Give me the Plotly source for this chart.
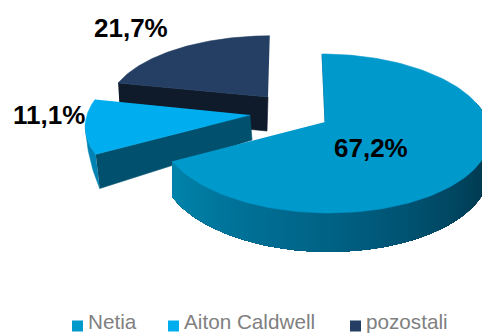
import math
import plotly.graph_objects as go

categories = ["Netia", "Aiton Caldwell", "pozostali"]
values = [67.2, 11.1, 21.7]
top_colors = ["#0099CC", "#00AEEF", "#243F63"]
wall_colors = [None, "#00506E", "#0F1A2B"]

# slice layout: apex in pixels, scale of radius, apex wall depth, shear
apex = [(325, 122), (250, 115), (268, 97)]
scale = [(1, 1), (1, 1), (0.97, 0.9)]
apex_depth = [34, 25, 34]
shear = [3.4, 0, -2]
A, B, K, D = 163, 77.8, 0.1447, 33.3

W, H = 482, 335
fig = go.Figure()

def poly(xs, ys, color, line=0.6):
    fig.add_trace(go.Scatter(x=xs, y=ys, mode="lines", fill="toself", fillcolor=color,
                             line=dict(color=color, width=line), hoverinfo="skip", showlegend=False))

def rim(i, t):
    r = math.radians(t)
    X, Y = math.sin(r), math.cos(r)
    w = 1 + K * Y
    ax, ay = apex[i]
    sx, sy = scale[i]
    return ax + sx * A * X / w - shear[i] * Y / w, ay - sy * B * Y / w, D / w

def mix(c1, c2, f):
    return "rgb(%d,%d,%d)" % tuple(round(a + (b - a) * f) for a, b in zip(c1, c2))

# angular extents follow from the values
total = sum(values)
edges = [0]
for v in values:
    edges.append(edges[-1] + v / total * 360)

def arc(i, a, b, n=80):
    return [a + (b - a) * k / n for k in range(n + 1)]

# --- pozostali (back)
i = 2
a, b = edges[2], edges[3]
ts = arc(i, a, b)
p0 = rim(i, a)
ax, ay = apex[i]
poly([p0[0], ax, ax - 1, p0[0] + 2], [p0[1], ay, ay + apex_depth[i], p0[1] + apex_depth[i]], wall_colors[i])
pts = [rim(i, t) for t in ts]
poly([ax] + [p[0] for p in pts], [ay] + [p[1] for p in pts], top_colors[i])

# --- Aiton Caldwell (middle)
i = 1
a, b = edges[1], edges[2]
p0 = rim(i, a)
ax, ay = apex[i]
# outer rim sliver
ts = [a + (22) * k / 20 for k in range(21)]
up = [rim(i, t) for t in ts]
dn = []
for k, t in enumerate(ts):
    f = 1 - k / 20
    p = rim(i, t)
    dn.append((p[0] + 4 * f, p[1] + (p[2] - 1.5) * f))
poly([p[0] for p in up] + [p[0] for p in dn[::-1]], [p[1] for p in up] + [p[1] for p in dn[::-1]], "#0083B4")
poly([p0[0], ax, ax + 2, p0[0] + 4], [p0[1], ay, ay + apex_depth[i], p0[1] + p0[2] - 1.5], wall_colors[i])
pts = [rim(i, t) for t in arc(i, a, b)]
poly([ax] + [p[0] for p in pts], [ay] + [p[1] for p in pts], top_colors[i])

# --- Netia (front)
i = 0
a, b = edges[0], edges[1]
ax, ay = apex[i]
stops = [(0.0, (0, 50, 68)), (0.25, (0, 58, 80)), (0.6, (0, 95, 130)), (1.0, (0, 132, 172))]
def ramp(f):
    for (f0, c0), (f1, c1) in zip(stops, stops[1:]):
        if f <= f1:
            return mix(c0, c1, (f - f0) / (f1 - f0))
    return mix(stops[-1][1], stops[-1][1], 0)
n = 90
t0, t1 = 75, b
for k in range(n):
    # each band runs to the end of the wall, so later bands paint over it with no seams
    ts = [t0 + (t1 - t0) * j / n for j in range(k, n + 1)]
    ps = [rim(i, t) for t in ts]
    poly([p[0] for p in ps] + [p[0] for p in ps[::-1]],
         [p[1] for p in ps] + [p[1] + p[2] for p in ps[::-1]], ramp(k / (n - 1)), line=0)
# thin wall at the start of the slice
p = rim(i, 0)
poly([p[0], ax, ax + 1.2, p[0] + 1.2], [p[1], ay, ay, p[1] + 2], "#004A66")
pts = [rim(i, t) for t in arc(i, a, b, 140)]
poly([ax] + [p[0] for p in pts], [ay] + [p[1] for p in pts], top_colors[i])

# --- value labels
label_pos = [(370.5, 148), (49, 115), (130.5, 28)]
for v, (lx, ly) in zip(values, label_pos):
    fig.add_annotation(x=lx, y=ly, text="<b>" + f"{v:.1f}%".replace(".", ",") + "</b>", showarrow=False,
                       xanchor="center", yanchor="middle",
                       font=dict(family="Liberation Sans", size=26, color="#000000"))

# --- legend
legend_x = [72, 168, 350]
for name, col, lx in zip(categories, top_colors, legend_x):
    fig.add_trace(go.Scatter(x=[lx + 5.5], y=[326], mode="markers", hoverinfo="skip", showlegend=False, name=name,
                             marker=dict(symbol="square", size=11, color=col)))
    fig.add_annotation(x=lx + 14, y=321.5, text=name, showarrow=False, xanchor="left", yanchor="middle",
                       font=dict(family="Liberation Sans", size=20.7, color="#808080"))

fig.update_layout(width=W, height=H, margin=dict(l=0, r=0, t=0, b=0),
                  paper_bgcolor="white", plot_bgcolor="white", showlegend=False,
                  xaxis=dict(range=[0, W], visible=False, fixedrange=True),
                  yaxis=dict(range=[H, 0], visible=False, fixedrange=True))
fig.write_html("out.html", config=dict(displayModeBar=False),
               post_script="document.body.style.margin='0';document.documentElement.style.overflow='hidden';")
